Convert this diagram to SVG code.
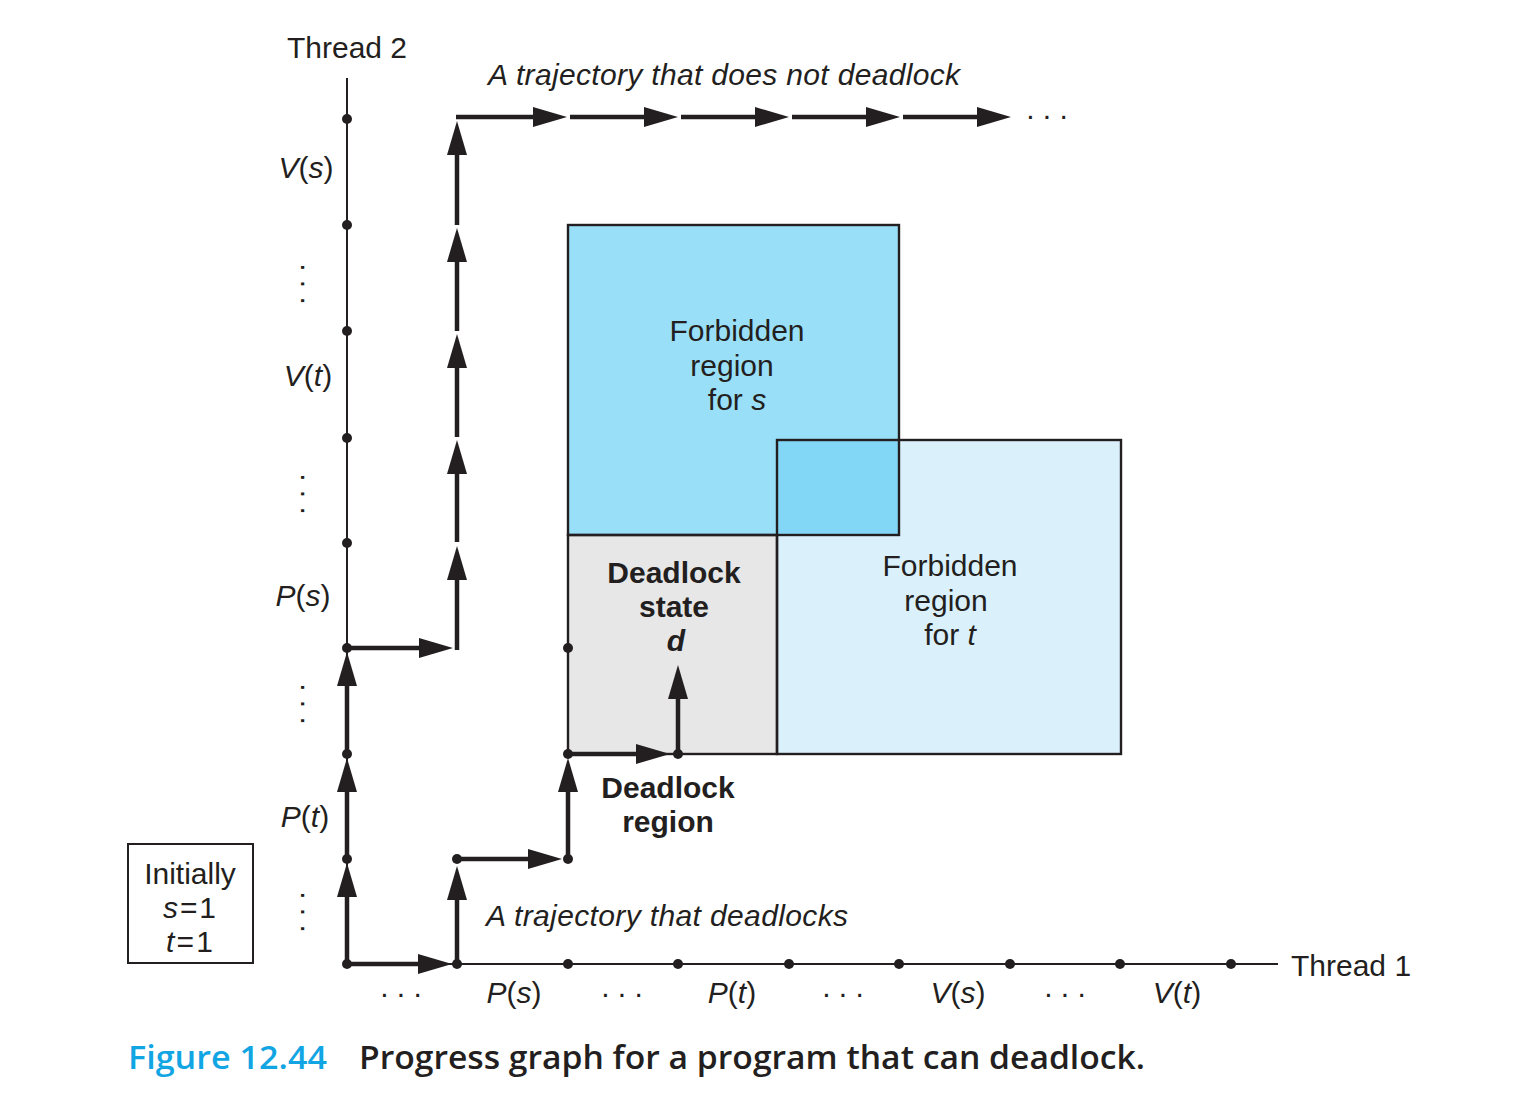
<svg xmlns="http://www.w3.org/2000/svg" width="1523" height="1115" viewBox="0 0 1523 1115">
<style>
.t{font-family:"Liberation Sans",Arial,sans-serif;font-size:30px;fill:#231f20}
.i{font-style:italic}
.b{font-weight:bold}
.m{text-anchor:middle}
.ax{stroke:#231f20;stroke-width:2;fill:none}
.tr{stroke:#231f20;stroke-width:4.5;fill:none;marker-end:url(#ah)}
.dot{fill:#231f20}
.rs{stroke:#231f20;stroke-width:2.4;fill:none}
.cap{font-family:"Open Sans","Liberation Sans",sans-serif;font-size:32px;font-weight:600}
</style>
<defs>
<marker id="ah" markerUnits="userSpaceOnUse" markerWidth="34" markerHeight="20" viewBox="0 0 34 20" refX="1" refY="10" orient="auto">
<path d="M0,0 L34,10 L0,20 z" fill="#231f20"/>
</marker>
</defs>
<rect width="1523" height="1115" fill="#ffffff"/>

<g id="forbidden-s">
<rect x="568" y="225" width="331" height="310" fill="#9adff8"/>
<text class="t m" x="737" y="341">Forbidden</text>
<text class="t m" x="732" y="376">region</text>
<text class="t m" x="737" y="410">for <tspan class="i">s</tspan></text>
</g>
<g id="forbidden-t">
<rect x="777" y="440" width="344" height="314" fill="#daf1fb"/>
<rect x="777" y="440" width="122" height="95" fill="#82d6f6"/>
<text class="t m" x="950" y="576">Forbidden</text>
<text class="t m" x="946" y="611">region</text>
<text class="t m" x="950" y="645">for <tspan class="i">t</tspan></text>
</g>
<g id="deadlock-state">
<rect x="568" y="535" width="209" height="219" fill="#e7e7e8"/>
<text class="t b m" x="674" y="583">Deadlock</text>
<text class="t b m" x="674" y="617">state</text>
<text class="t b i m" x="676" y="651">d</text>
</g>
<g id="outlines">
<rect class="rs" x="568" y="225" width="331" height="310"/>
<rect class="rs" x="777" y="440" width="344" height="314"/>
<rect class="rs" x="568" y="535" width="209" height="219"/>
</g>

<g id="thread2-axis">
<line class="ax" x1="347" y1="78" x2="347" y2="964"/>
<text class="t m" x="347" y="58">Thread 2</text>
<text class="t m" x="306" y="178"><tspan class="i">V</tspan>(<tspan class="i">s</tspan>)</text>
<text class="t m" x="308" y="386"><tspan class="i">V</tspan>(<tspan class="i">t</tspan>)</text>
<text class="t m" x="303" y="606"><tspan class="i">P</tspan>(<tspan class="i">s</tspan>)</text>
<text class="t m" x="305" y="827"><tspan class="i">P</tspan>(<tspan class="i">t</tspan>)</text>
<text class="t m" transform="translate(303,284) rotate(90)" y="2">. . .</text>
<text class="t m" transform="translate(303,494) rotate(90)" y="2">. . .</text>
<text class="t m" transform="translate(303,704) rotate(90)" y="2">. . .</text>
<text class="t m" transform="translate(303,912) rotate(90)" y="2">. . .</text>
</g>
<g id="thread1-axis">
<line class="ax" x1="347" y1="964" x2="1278" y2="964"/>
<text class="t" x="1291" y="976">Thread 1</text>
<text class="t m" x="401" y="997">. . .</text>
<text class="t m" x="514" y="1003"><tspan class="i">P</tspan>(<tspan class="i">s</tspan>)</text>
<text class="t m" x="622" y="997">. . .</text>
<text class="t m" x="732" y="1003"><tspan class="i">P</tspan>(<tspan class="i">t</tspan>)</text>
<text class="t m" x="843" y="997">. . .</text>
<text class="t m" x="958" y="1003"><tspan class="i">V</tspan>(<tspan class="i">s</tspan>)</text>
<text class="t m" x="1065" y="997">. . .</text>
<text class="t m" x="1177" y="1003"><tspan class="i">V</tspan>(<tspan class="i">t</tspan>)</text>
</g>

<g id="connectors">
<line class="tr" x1="347" y1="964" x2="347" y2="896"/>
<line class="tr" x1="347" y1="859" x2="347" y2="791"/>
<line class="tr" x1="347" y1="754" x2="347" y2="685"/>
<line class="tr" x1="347" y1="648" x2="420" y2="648"/>
<line class="tr" x1="457" y1="650" x2="457" y2="579"/>
<line class="tr" x1="457" y1="542" x2="457" y2="473"/>
<line class="tr" x1="457" y1="437" x2="457" y2="367"/>
<line class="tr" x1="457" y1="331" x2="457" y2="261"/>
<line class="tr" x1="457" y1="225" x2="457" y2="154"/>
<line class="tr" x1="456" y1="117" x2="534" y2="117"/>
<line class="tr" x1="570" y1="117" x2="645" y2="117"/>
<line class="tr" x1="681" y1="117" x2="756" y2="117"/>
<line class="tr" x1="792" y1="117" x2="867" y2="117"/>
<line class="tr" x1="903" y1="117" x2="978" y2="117"/>
<line class="tr" x1="347" y1="964" x2="419" y2="964"/>
<line class="tr" x1="457" y1="964" x2="457" y2="899"/>
<line class="tr" x1="457" y1="859" x2="529" y2="859"/>
<line class="tr" x1="568" y1="859" x2="568" y2="791"/>
<line class="tr" x1="568" y1="754" x2="637" y2="754"/>
<line class="tr" x1="678" y1="754" x2="678" y2="698"/>
</g>

<g id="dots">
<circle class="dot" cx="347" cy="119" r="5"/>
<circle class="dot" cx="347" cy="225" r="5"/>
<circle class="dot" cx="347" cy="331" r="5"/>
<circle class="dot" cx="347" cy="438" r="5"/>
<circle class="dot" cx="347" cy="543" r="5"/>
<circle class="dot" cx="347" cy="648" r="5"/>
<circle class="dot" cx="347" cy="754" r="5"/>
<circle class="dot" cx="347" cy="859" r="5"/>
<circle class="dot" cx="347" cy="964" r="5"/>
<circle class="dot" cx="457" cy="964" r="5"/>
<circle class="dot" cx="568" cy="964" r="5"/>
<circle class="dot" cx="678" cy="964" r="5"/>
<circle class="dot" cx="789" cy="964" r="5"/>
<circle class="dot" cx="899" cy="964" r="5"/>
<circle class="dot" cx="1010" cy="964" r="5"/>
<circle class="dot" cx="1120" cy="964" r="5"/>
<circle class="dot" cx="1231" cy="964" r="5"/>
<circle class="dot" cx="457" cy="859" r="5"/>
<circle class="dot" cx="568" cy="859" r="5"/>
<circle class="dot" cx="568" cy="754" r="5"/>
<circle class="dot" cx="568" cy="648" r="5"/>
<circle class="dot" cx="678" cy="754" r="5"/>
</g>

<g id="labels">
<text class="t i" x="488" y="85" textLength="472" lengthAdjust="spacing">A trajectory that does not deadlock</text>
<text class="t m" x="1047" y="119">. . .</text>
<text class="t i" x="486" y="926" textLength="362" lengthAdjust="spacing">A trajectory that deadlocks</text>
</g>
<g id="deadlock-region">
<text class="t b m" x="668" y="798">Deadlock</text>
<text class="t b m" x="668" y="832">region</text>
</g>
<g id="initially">
<rect x="128" y="844" width="125" height="119" fill="none" stroke="#231f20" stroke-width="2"/>
<text class="t m" x="190" y="884">Initially</text>
<text class="t" x="163" y="918" textLength="53" lengthAdjust="spacing"><tspan class="i">s</tspan>=1</text>
<text class="t" x="166" y="952" textLength="47" lengthAdjust="spacing"><tspan class="i">t</tspan>=1</text>
</g>
<g id="caption">
<text class="cap" x="128" y="1069" fill="#12a5e3" textLength="199" lengthAdjust="spacingAndGlyphs">Figure 12.44</text>
<text class="cap" x="359" y="1069" fill="#231f20" textLength="786" lengthAdjust="spacingAndGlyphs">Progress graph for a program that can deadlock.</text>
</g>
</svg>
